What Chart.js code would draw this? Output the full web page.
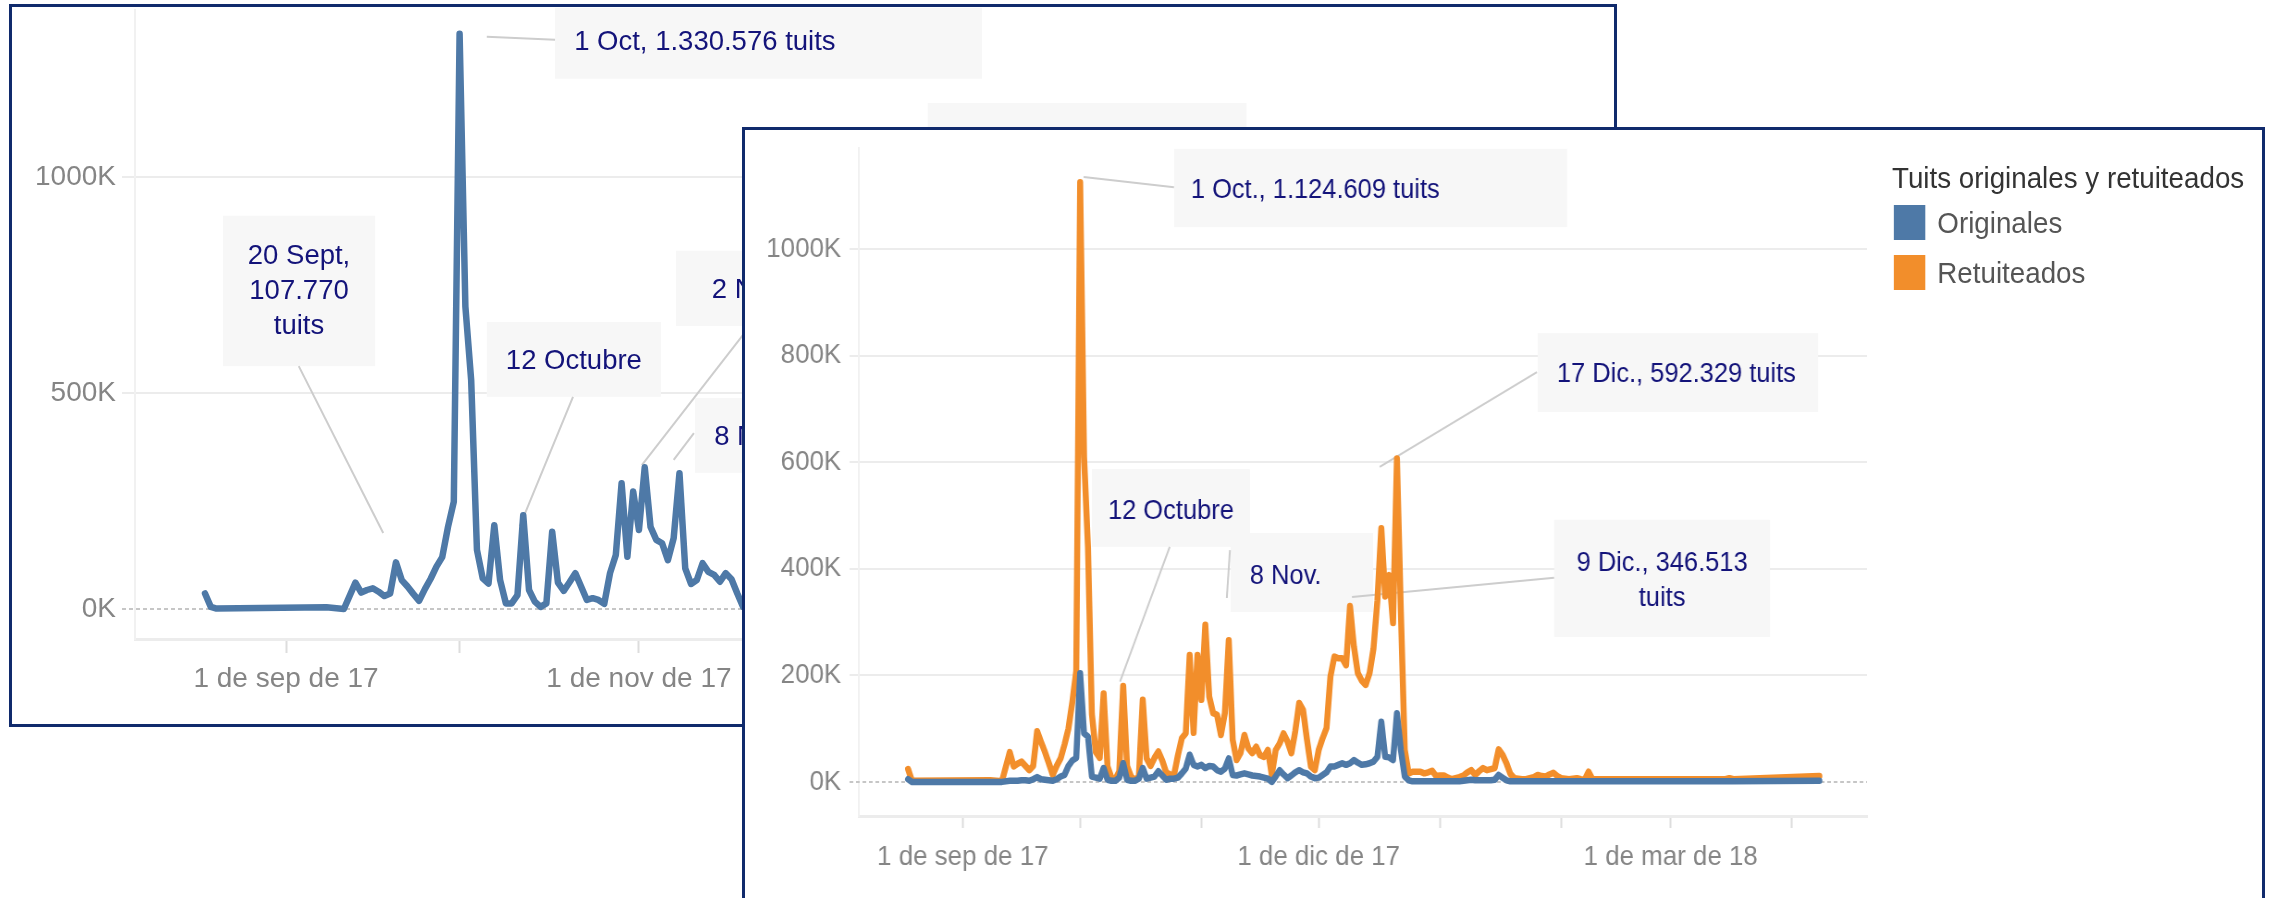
<!DOCTYPE html>
<html>
<head>
<meta charset="utf-8">
<script src="https://cdn.jsdelivr.net/npm/chart.js@4.4.0/dist/chart.umd.min.js"></script>
<style>
body{margin:0;width:2272px;height:898px;overflow:hidden;background:#fff;position:relative}
.marco{position:absolute;border:3px solid #102a6c;background:#fff;box-sizing:border-box;overflow:hidden}
#fondo{left:9px;top:4px;width:1608px;height:723px}
#frente{left:742px;top:127px;width:1523px;height:796px}
#estirado{position:absolute;left:0;top:0;width:1640px;height:790px;transform:scaleX(0.925);transform-origin:0 0}
canvas{position:absolute;left:0;top:0}
#leyenda{position:absolute;left:1240px;top:29px;font-family:'Liberation Sans',Arial,sans-serif;color:#555}
#leyenda .tit{font-size:30px;color:#333;height:38px;line-height:38px;white-space:nowrap}
#leyenda .item{position:relative;height:50px}
#leyenda .cuadro{position:absolute;left:2px;top:8px;width:34px;height:35px}
#leyenda .txt{position:absolute;left:49px;top:7px;font-size:30px;line-height:38px;white-space:nowrap}
</style>
</head>
<body>
<div class="marco" id="fondo"><canvas id="cFondo" width="1602" height="717"></canvas></div>
<div class="marco" id="frente"><div id="estirado"><canvas id="cFrente" width="1640" height="790"></canvas><div id="leyenda"></div></div></div>
<script>
// dias contados desde el 1 de sep de 2017, valores en miles de tuits

// grafico de atras: total de tuits
var diasFondo = [-14, -13, -12, 7, 10, 12, 13, 14, 15, 16, 17, 18, 19, 20, 21, 22, 23, 24, 25, 26, 27, 28, 29,
	30, 31, 32, 33, 34, 35, 36, 37, 38, 39, 40, 41, 42, 43, 44, 45, 46, 47, 48, 49, 50, 51, 52, 53, 54,
	55, 56, 57, 58, 59, 60, 61, 62, 63, 64, 65, 66, 67, 68, 69, 70, 71, 72, 73, 74, 75, 76, 77, 78, 79];
var totalFondo = [36, 5, 1, 4, 0, 61, 38, 44, 48, 40, 30, 36, 108, 67, 52, 35, 19, 46, 70, 98, 120, 190, 248,
	1331, 700, 530, 137, 71, 59, 194, 67, 13, 13, 32, 217, 44, 17, 5, 13, 179, 61, 42, 62, 83, 52, 21, 25, 21,
	12, 83, 125, 291, 121, 272, 183, 328, 190, 160, 152, 113, 164, 314, 94, 58, 67, 106, 86, 79, 63, 83, 69, 36, 5];

// grafico de delante: originales y retuiteados
var diasFrente = [-14, -13, 7, 10, 12, 13, 14, 15, 16, 17, 18, 19, 20, 21, 22, 23, 24, 25, 26, 27, 28, 29,
	30, 31, 32, 33, 34, 35, 36, 37, 38, 39, 40, 41, 42, 43, 44, 45, 46, 47, 48, 49, 50, 51, 52, 53, 54,
	55, 56, 57, 58, 59, 60, 61, 62, 63, 64, 65, 66, 67, 68, 69, 70, 71, 72, 73, 74, 75, 76, 77, 78, 79,
	80, 81, 82, 83, 84, 85, 86, 87, 88, 89, 90, 91, 92, 93, 94, 95, 96, 97, 98, 99, 100, 101, 102, 103, 104,
	105, 106, 107, 108, 109, 110, 111, 112, 113, 114, 115, 116, 117, 118, 119, 120, 121, 122, 123, 124, 125,
	126, 127, 128, 129, 130, 131, 132, 133, 134, 135, 136, 137, 138, 139, 140, 141, 142, 143, 144, 145, 146,
	147, 148, 149, 150, 151, 152, 153, 154, 155, 156, 157, 158, 159, 160, 161, 195, 196, 197, 219];
var originales = [5, 0, 0, 0, 2, 2, 2, 3, 3, 2, 5, 9, 5, 4, 3, 2, 5, 10, 13, 30, 40, 45,
	204, 91, 85, 10, 8, 6, 26, 4, 2, 2, 8, 35, 4, 2, 2, 6, 26, 6, 8, 10, 20, 12, 4, 6, 6,
	8, 16, 25, 51, 32, 29, 32, 26, 30, 29, 22, 19, 25, 44, 13, 12, 14, 16, 14, 12, 11, 10, 8, 6, 0,
	10, 22, 14, 7, 12, 18, 22, 18, 16, 10, 7, 8, 13, 18, 29, 29, 32, 35, 32, 35, 41, 36, 32, 33, 35,
	38, 47, 113, 47, 46, 41, 129, 60, 10, 3, 1, 1, 1, 1, 1, 1, 1, 1, 1, 1, 1,
	1, 1, 2, 3, 4, 3, 3, 3, 3, 3, 4, 13, 8, 3, 1, 1, 1, 1, 1, 1, 1,
	1, 1, 1, 1, 1, 1, 1, 1, 1, 1, 1, 1, 1, 1, 1, 1, 1, 1, 2];
var retuiteados = [24, 2, 3, 1, 56, 29, 34, 38, 30, 22, 30, 95, 75, 56, 35, 13, 30, 44, 70, 100, 150, 208,
	1125, 610, 440, 127, 56, 45, 166, 29, 8, 5, 20, 180, 30, 10, 4, 10, 154, 44, 30, 45, 57, 40, 18, 14, 13,
	50, 82, 91, 238, 92, 238, 154, 295, 160, 129, 126, 88, 129, 266, 79, 41, 54, 88, 63, 54, 66, 50, 47, 60, 13,
	60, 72, 91, 76, 54, 95, 148, 135, 79, 29, 22, 60, 82, 101, 198, 235, 232, 232, 219, 330, 254, 204, 190, 182, 204,
	250, 340, 476, 348, 388, 298, 607, 320, 60, 16, 19, 19, 19, 16, 18, 21, 11, 12, 12, 8, 5,
	7, 9, 12, 18, 22, 13, 20, 26, 22, 24, 26, 61, 51, 35, 15, 7, 6, 5, 5, 7, 9,
	13, 11, 10, 14, 17, 11, 7, 6, 5, 6, 7, 5, 4, 19, 5, 5, 7, 5, 11];

var nombresSeries = ['Originales', 'Retuiteados'];
var coloresSeries = ['#4e79a7', '#f28e2b'];
var tituloLeyenda = 'Tuits originales y retuiteados';

// ticks
var diasMes = [0, 30, 61, 91, 122, 153, 181, 212];
var etiquetasFondo = ['1 de sep de 17', '', '1 de nov de 17', '', '1 de ene de 18', '', '1 de mar de 18', ''];
var etiquetasFrente = ['1 de sep de 17', '', '', '1 de dic de 17', '', '', '1 de mar de 18', ''];
var ticksYFondo = [0, 500, 1000];
var ticksYFrente = [0, 200, 400, 600, 800, 1000];

// anotaciones (en unidades de los ejes)
var notasFondo = [
	{caja: [46.5, 120.3, 1391, 1227], lineas: ['1 Oct, 1.330.576 tuits'], alin: 'left', tx: 49.8, ty: 1310, de: [34.7, 1324], a: [46.5, 1317]},
	{caja: [-10.9, 15.4, 910, 562], lineas: ['20 Sept,', '107.770', 'tuits'], alin: 'center', tx: 2.25, ty: 734, de: [2.2, 562], a: [16.8, 176]},
	{caja: [34.7, 64.8, 664, 491], lineas: ['12 Octubre'], alin: 'center', tx: 49.75, ty: 572, de: [49.6, 491], a: [40.4, 192]},
	{caja: [67.4, 106, 829, 655], lineas: ['2 Nov.'], alin: 'left', tx: 73.6, ty: 738, de: [80.2, 655], a: [61.5, 333]},
	{caja: [70.7, 97.5, 488, 315], lineas: ['8 Nov.'], alin: 'left', tx: 74, ty: 398, de: [70.5, 407], a: [67, 345]},
	{caja: [110.9, 166, 1171, 900], lineas: [], alin: 'left', tx: 0, ty: 0}
];
var notasFrente = [
	{caja: [54, 154.5, 1188, 1041], lineas: ['1 Oct., 1.124.609 tuits'], alin: 'left', tx: 58.3, ty: 1109, de: [30.9, 1135], a: [54, 1116]},
	{caja: [147, 218.7, 842, 694], lineas: ['17 Dic., 592.329 tuits'], alin: 'left', tx: 151.9, ty: 764, de: [146.8, 769], a: [106.6, 591]},
	{caja: [33, 73.4, 587, 441], lineas: ['12 Octubre'], alin: 'center', tx: 53.2, ty: 507, de: [52.9, 441], a: [40.2, 188]},
	{caja: [68.5, 104.9, 467, 319], lineas: ['8 Nov.'], alin: 'left', tx: 73.4, ty: 386, de: [68.3, 435], a: [67.5, 345]},
	{caja: [151.2, 206.4, 492, 272], lineas: ['9 Dic., 346.513', 'tuits'], alin: 'center', tx: 178.8, ty: 378, de: [151.2, 383], a: [99.5, 347]}
];

var fuente = "'Liberation Sans', Arial, sans-serif";

var pluginNotas = {
	id: 'notas',
	beforeDatasetsDraw: function(chart, args, opts) {
		var ctx = chart.ctx;
		var xs = chart.scales.x, ys = chart.scales.y;
		var px = function(d){ return xs.getPixelForValue(d); };
		var py = function(v){ return ys.getPixelForValue(v); };
		var area = chart.chartArea;
		ctx.save();
		// linea de cero punteada
		ctx.strokeStyle = '#c6c6c6';
		ctx.lineWidth = 2;
		ctx.setLineDash([4, 3]);
		ctx.beginPath();
		ctx.moveTo(area.left - opts.extraCero, py(0));
		ctx.lineTo(area.right, py(0));
		ctx.stroke();
		ctx.setLineDash([]);

		opts.items.forEach(function(n){
			ctx.fillStyle = '#f7f7f7';
			var x0 = px(n.caja[0]), x1 = px(n.caja[1]), y0 = py(n.caja[2]), y1 = py(n.caja[3]);
			ctx.fillRect(x0, y0, x1 - x0, y1 - y0);
		});
		opts.items.forEach(function(n){
			if(!n.de) return;
			ctx.strokeStyle = '#cdcdcd';
			ctx.lineWidth = 2;
			ctx.beginPath();
			ctx.moveTo(px(n.de[0]), py(n.de[1]));
			ctx.lineTo(px(n.a[0]), py(n.a[1]));
			ctx.stroke();
		});
		ctx.fillStyle = '#13137a';
		ctx.font = opts.fuente;
		ctx.textBaseline = 'middle';
		opts.items.forEach(function(n){
			ctx.textAlign = n.alin;
			var y = py(n.ty) - (n.lineas.length - 1) * opts.interlinea / 2;
			for(var i=0;i<n.lineas.length;i++){
				ctx.fillText(n.lineas[i], px(n.tx), y + i * opts.interlinea);
			}
		});
		ctx.restore();
	}
};

function colorGrid(c){
	return c.tick && c.tick.value === 0 ? 'rgba(0,0,0,0)' : '#ececec';
}

function opciones(cfg){
	return {
		responsive: false,
		animation: false,
		events: [],
		layout: {padding: {top: cfg.arriba, right: cfg.derecha, left: 0, bottom: 0}},
		plugins: {
			legend: {display: false},
			tooltip: {enabled: false},
			notas: {items: cfg.notas, fuente: cfg.fuenteNota, interlinea: 35, extraCero: cfg.ticY}
		},
		scales: {
			x: {
				type: 'linear',
				min: cfg.xmin,
				max: cfg.xmax,
				afterBuildTicks: function(s){ s.ticks = diasMes.map(function(v){ return {value: v}; }); },
				afterFit: function(s){ s.height = cfg.altoX; s.paddingLeft = 0; s.paddingRight = 0; },
				ticks: {
					autoSkip: false,
					maxRotation: 0,
					color: '#858585',
					font: {family: fuente, size: 28},
					padding: cfg.padX,
					callback: function(v, i){ return cfg.etiquetas[i]; }
				},
				grid: {drawOnChartArea: false, drawTicks: true, tickLength: cfg.ticX, tickColor: '#dddddd', tickWidth: 2},
				border: {display: true, color: '#ececec', width: 3}
			},
			y: {
				min: cfg.ymin,
				max: cfg.ymax,
				afterBuildTicks: function(s){ s.ticks = cfg.ticksY.map(function(v){ return {value: v}; }); },
				afterFit: function(s){ s.width = cfg.anchoY; s.paddingTop = 0; s.paddingBottom = 0; },
				ticks: {
					color: '#858585',
					font: {family: fuente, size: 28},
					padding: cfg.padY,
					callback: function(v){ return v + 'K'; }
				},
				grid: {color: colorGrid, tickColor: colorGrid, lineWidth: 2, tickLength: cfg.ticY},
				border: {display: true, color: '#f1f1f1', width: 2}
			}
		}
	};
}

function puntos(dias, valores){
	return dias.map(function(d, i){ return {x: d, y: valores[i]}; });
}

var estiloLinea = {borderWidth: 6.5, pointRadius: 0, tension: 0, borderJoinStyle: 'round', borderCapStyle: 'round', fill: false};

new Chart(document.getElementById('cFondo').getContext('2d'), {
	type: 'line',
	data: {
		datasets: [Object.assign({label: 'Tuits', data: puntos(diasFondo, totalFondo), borderColor: coloresSeries[0]}, estiloLinea)]
	},
	options: opciones({
		arriba: 3, derecha: 14, anchoY: 123, altoX: 85,
		xmin: -26.1, xmax: 227.1, ymin: -69.4, ymax: 1386,
		etiquetas: etiquetasFondo, ticksY: ticksYFondo,
		padX: 9, ticX: 14, padY: 6, ticY: 13,
		notas: notasFondo, fuenteNota: "27.5px " + fuente
	}),
	plugins: [pluginNotas]
});

// el grafico de delante esta estrechado en horizontal (scaleX 0.925)
new Chart(document.getElementById('cFrente').getContext('2d'), {
	type: 'line',
	data: {
		datasets: [
			Object.assign({label: nombresSeries[0], data: puntos(diasFrente, originales), borderColor: coloresSeries[0]}, estiloLinea),
			Object.assign({label: nombresSeries[1], data: puntos(diasFrente, retuiteados), borderColor: coloresSeries[1]}, estiloLinea)
		]
	},
	options: opciones({
		arriba: 18, derecha: 427, anchoY: 123, altoX: 104,
		xmin: -26.6, xmax: 231.2, ymin: -64, ymax: 1189.5,
		etiquetas: etiquetasFrente, ticksY: ticksYFrente,
		padX: 12, ticX: 12, padY: 9, ticY: 10,
		notas: notasFrente, fuenteNota: "27.5px " + fuente
	}),
	plugins: [pluginNotas]
});

// leyenda
var ley = document.getElementById('leyenda');
var html = '<div class="tit">' + tituloLeyenda + '</div>';
for(var i=0;i<nombresSeries.length;i++){
	html += '<div class="item"><div class="cuadro" style="background:' + coloresSeries[i] + '"></div><div class="txt">' + nombresSeries[i] + '</div></div>';
}
ley.innerHTML = html;
</script>
</body>
</html>
